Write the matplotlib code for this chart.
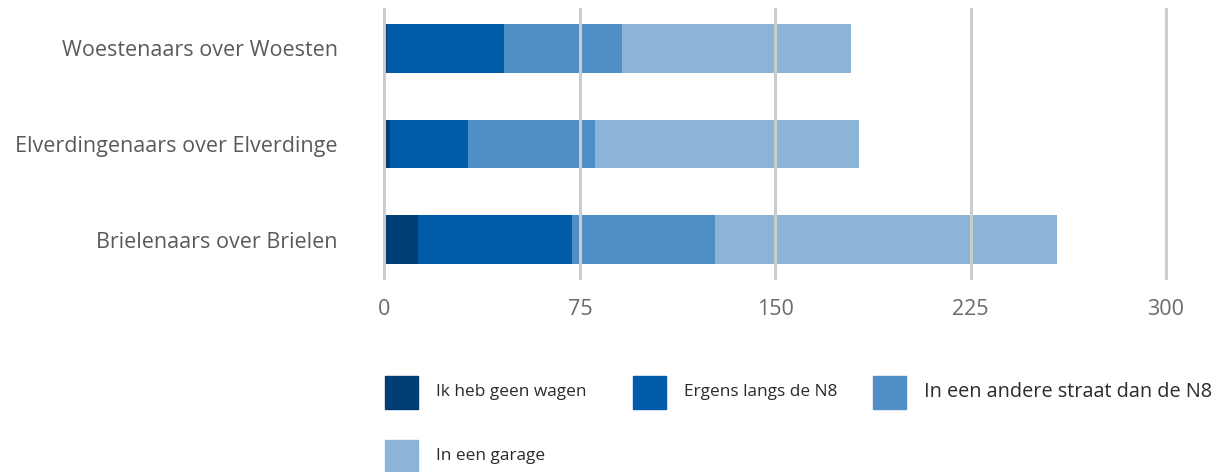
import matplotlib.pyplot as plt
import numpy as np
from matplotlib.patches import Rectangle

# categories (top to bottom) and stacked series values
categories = ["Woestenaars over Woesten", "Elverdingenaars over Elverdinge", "Brielenaars over Brielen"]
series_names = ["Ik heb geen wagen", "Ergens langs de N8", "In een andere straat dan de N8", "In een garage"]
geen_wagen = [1, 2, 13]
langs_n8 = [45, 30, 59]
andere_straat = [45, 49, 55]
garage = [88, 101, 131]
x_ticks = [0, 75, 150, 225, 300]

colors = ["#003d74", "#005ca9", "#4f8fc6", "#8cb3d8"]
font = "Open Sans"

fig = plt.figure(figsize=(12.14, 4.72), dpi=100)
ax = fig.add_axes([0.3154, 0.407, 0.6464, 0.576])

y = np.arange(len(categories))
left = np.zeros(len(categories))
for vals, c in zip([geen_wagen, langs_n8, andere_straat, garage], colors):
    ax.barh(y, vals, left=left, height=0.51, color=c, zorder=1)
    left += np.array(vals)

ax.set_ylim(2.42, -0.42)
ax.set_xticks(x_ticks)
ax.set_xticklabels([str(t) for t in x_ticks], fontsize=15.5, color="#6a6a6a", family=font)
ax.set_yticks(y)
ax.set_yticklabels(categories, fontsize=15.5, color="#5a5a5a", family=font)
ax.tick_params(axis="x", length=0, pad=13.5)
ax.tick_params(axis="y", length=0, pad=32.5)
for s in ax.spines.values():
    s.set_visible(False)
ax.xaxis.grid(True, color="#cccccc", linewidth=2.2, zorder=3)
ax.set_axisbelow(False)
ax.set_xlim(-0.6, 300.6)

# legend drawn by hand to keep the original layout
W, H = 1214, 472
legend_items = [
    (385, 392, series_names[0], 12.4),
    (633, 392, series_names[1], 12.4),
    (873, 392, series_names[2], 14.3),
    (385, 456, series_names[3], 12.4),
]
for (px, py, label, fs), c in zip(legend_items, colors):
    fig.patches.append(Rectangle((px / W, 1 - (py + 16.5) / H), 33 / W, 33 / H,
                                 transform=fig.transFigure, color=c))
    fig.text((px + 51) / W, 1 - py / H, label, fontsize=fs, color="#2b2b2b",
             family=font, va="center", ha="left")

fig.savefig("out.png", dpi=100)
